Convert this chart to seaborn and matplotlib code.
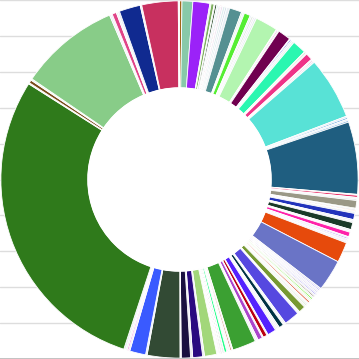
import matplotlib
matplotlib.use("Agg")
import matplotlib.pyplot as plt
import seaborn as sns

# -------------------- DATA (slice sizes in degrees, clockwise from top) --------------------
shares = [
    0.8, 3.5, 5.5, 0.4, 1.0, 0.3, 0.6, 0.5, 0.6, 0.3, 0.6, 0.7, 0.6, 0.9,
    4.0, 0.5, 0.5, 2.0, 0.5, 0.6, 0.5, 0.6,
    7.3, 0.3, 0.4, 0.3, 4.2, 0.3, 0.4, 0.5, 0.6,
    4.5, 0.3, 0.4, 0.3, 2.3, 0.4, 0.4, 0.5,
    20.2, 0.5, 0.5, 0.5, 0.5,
    23.5,
    0.3, 0.7, 0.5, 0.5, 2.5, 0.3, 0.5, 0.3, 0.6, 2.0, 0.5, 0.5, 2.3, 0.5, 0.4,
    1.5, 0.4, 0.4, 0.5, 0.3, 0.5,
    6.6, 10.2,
    0.5, 0.4, 0.5, 0.4, 0.5, 0.4, 0.5, 0.4, 0.5, 0.5, 0.4, 0.5, 0.6, 0.4, 0.5, 0.4, 0.5,
    2.2, 0.4, 0.4, 5.0, 0.5, 0.4, 1.5, 0.5, 0.5, 0.5,
    2.8, 0.4, 1.3, 0.4, 1.5, 0.5, 0.5,
    7.7,
    0.4, 0.5, 0.4, 0.3, 0.4, 0.8, 0.4, 0.3, 0.3, 0.3, 0.3, 0.3, 0.3, 0.3,
    4.0, 0.6, 3.2, 0.7, 3.0, 0.4,
    10.6, 0.5, 5.2, 0.5, 0.4, 0.5, 0.6,
    104.0, 0.4, 1.0, 0.5,
    32.6, 0.5, 0.4, 1.4, 0.5, 0.6,
    6.9, 0.5, 11.8, 0.4,
]

colors = [
    "#a0661a", "#88c9a9", "#9b22f8", "#dde9d6", "#7fb060", "#e6ede6", "#2f4f2f", "#dde5ee", "#e8eef4",
    "#e03050", "#eee0f0", "#e0eef0", "#d6e2ea", "#e9eff5",
    "#559092", "#ddeedd", "#e6f0fa", "#55ee33", "#e4ecf4", "#dfe9df", "#eae4f0", "#e2eef0",
    "#b3f5b0", "#f0e0f0", "#e070c8", "#e8eef0", "#700050", "#e6e6f6", "#3030e0", "#dfe8ef", "#e6f0f0",
    "#2af7b0", "#e6efe6", "#77aa66", "#e0eaf0", "#ee3388", "#f0e2ec", "#e880c0", "#eae4f2",
    "#58e2d6", "#d6e8f6", "#5a9ad8", "#e4eef8", "#7ab0e0",
    "#1f5e80",
    "#eef0f4", "#e8336a", "#f2f2f4", "#e4e6ea", "#9a9886", "#667733", "#e8eaf0", "#ff6622", "#eceff2",
    "#2233bb", "#e2e6f2", "#eaeef0", "#1a3a28", "#e4eaf0", "#ece6f0",
    "#ff22aa", "#e8e2f4", "#7744ee", "#ebe8f4", "#8866dd", "#eceaf2",
    "#e64a0c", "#6a74c6",
    "#ddd8f0", "#8877ee", "#eeeaf6", "#aaa0e8", "#e6e6f2", "#6655ee", "#ececf4", "#3a1a0a", "#e8f0e8",
    "#66ee22", "#bbee99", "#eef2ea", "#e06040", "#ece6e6", "#e6ecf2", "#aacc88", "#eef0ea",
    "#779933", "#e8eef2", "#ddeeff", "#5648e0", "#e6e8f2", "#eef0f4", "#003344", "#e4eaee", "#ecf0f0", "#e6e6f0",
    "#5522ff", "#ece6f2", "#bb0011", "#f2e8ec", "#aa44cc", "#eee4f2", "#e8eef0",
    "#3ba032",
    "#eef0ea", "#cc7766", "#f0eaee", "#e0a0b0", "#eaf0ee", "#22ff88", "#eef2f0", "#222222", "#ecece8",
    "#444433", "#f0eaee", "#e088aa", "#ecf0ee", "#eaeef2",
    "#a2d77a", "#eceef4", "#2a0a80", "#eaeaf2", "#1a1040", "#eeeef2",
    "#324a34", "#e8ecf4", "#3a5aff", "#eeeaf4", "#ee22cc", "#f0eef4", "#e6ecf0",
    "#2f7a1b", "#eeeee8", "#7a4a1a", "#eef2ee",
    "#88cc88", "#e4e4f6", "#dcdcf0", "#e04488", "#eeeaf4", "#e6ecf4",
    "#102a90", "#eef0f4", "#c8305f", "#f2ecee",
]

grid_levels = [-1.0, -0.8, -0.6, -0.4, -0.2, 0.0, 0.2, 0.4, 0.6, 0.8, 1.0]

# -------------------- PLOT --------------------
sns.set_theme(style="white")

fig = plt.figure(figsize=(3.59, 3.59), dpi=100)
ax = fig.add_axes([0, 0, 1, 1])

for lev in grid_levels:
    ax.axhline(lev, color="#dddddd", lw=1.0, zorder=0)

ax.pie(
    shares,
    colors=colors,
    startangle=90,
    counterclock=False,
    radius=0.995,
    wedgeprops=dict(width=0.485, edgecolor="white", linewidth=0.6),
    frame=True,
)
ax.add_patch(plt.Circle((0, 0), 0.51, color="white", zorder=5))

ax.set_xlim(-1, 1)
ax.set_ylim(-1, 1)
ax.set_aspect("equal")
ax.set_xticks([])
ax.set_yticks([])
for side in ["top", "left", "right"]:
    ax.spines[side].set_visible(False)
ax.spines["bottom"].set_color("#bbbbbb")

fig.savefig("out.png", dpi=100)
